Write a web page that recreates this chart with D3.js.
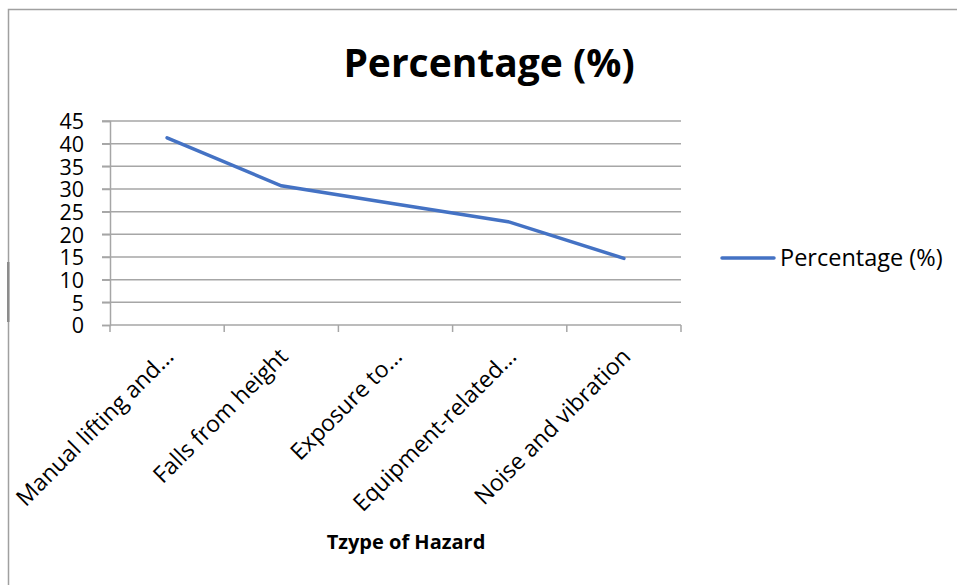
<!DOCTYPE html>
<html>
<head>
<meta charset="utf-8">
<script src="https://cdn.jsdelivr.net/npm/d3@7"></script>
<style>
  body { margin: 0; background: #fff; }
  text { font-family: "Open Sans", "Noto Sans", sans-serif; fill: #000; }
</style>
</head>
<body>
<div id="chart"></div>
<script>
// data
const categories = ["Manual lifting and...", "Falls from height", "Exposure to...", "Equipment-related...", "Noise and vibration"];
const percentages = [41.3, 30.7, 26.7, 22.7, 14.7];
const yTicks = [0, 5, 10, 15, 20, 25, 30, 35, 40, 45];
const seriesName = "Percentage (%)";
const chartTitle = "Percentage (%)";
const xTitle = "Tzype of Hazard";

const W = 957, H = 585;
const plot = { left: 110, right: 681, top: 121, bottom: 325 };
const lineColor = "#4472C4";
const gridColor = "#a6a6a6";

const svg = d3.select("#chart").append("svg")
    .attr("width", W)
    .attr("height", H);

// outer frame (only left and top edges show in the picture)
svg.append("path")
    .attr("d", `M8.5,${H} V9.5 H${W}`)
    .attr("fill", "none")
    .attr("stroke", "#a0a0a0")
    .attr("stroke-width", 1.5);
svg.append("rect")
    .attr("x", 7).attr("y", 262).attr("width", 2.5).attr("height", 60)
    .attr("fill", "#8c8c8c");

const x = d3.scaleBand()
    .domain(categories)
    .range([plot.left, plot.right])
    .padding(0);

const y = d3.scaleLinear()
    .domain([0, 45])
    .range([plot.bottom, plot.top]);

// gridlines
svg.append("g")
  .selectAll("line")
  .data(yTicks.filter(d => d > 0))
  .join("line")
    .attr("x1", plot.left - 8)
    .attr("x2", plot.right)
    .attr("y1", d => y(d))
    .attr("y2", d => y(d))
    .attr("stroke", gridColor)
    .attr("stroke-width", 1.5);

// y axis
const yAxis = svg.append("g")
    .attr("transform", `translate(${plot.left},0)`)
    .call(d3.axisLeft(y).tickValues(yTicks).tickSize(8).tickPadding(18));
yAxis.select(".domain").attr("stroke", gridColor).attr("stroke-width", 1.5);
yAxis.selectAll(".tick line").attr("stroke", gridColor).attr("stroke-width", 1.5);
yAxis.selectAll("text")
    .attr("font-size", 21.5)
    .attr("font-family", "'Open Sans', sans-serif")
    .attr("fill", "#000")
    .attr("dy", "0.36em");

// x axis with ticks between categories
const xAxis = svg.append("g")
    .attr("transform", `translate(0,${plot.bottom})`);
xAxis.append("line")
    .attr("x1", plot.left).attr("x2", plot.right)
    .attr("stroke", gridColor).attr("stroke-width", 1.5);
const edges = categories.map(c => x(c)).concat([x(categories[categories.length - 1]) + x.bandwidth()]);
xAxis.selectAll("line.tk")
  .data(edges)
  .join("line")
    .attr("class", "tk")
    .attr("x1", d => d).attr("x2", d => d)
    .attr("y1", 0).attr("y2", 7)
    .attr("stroke", gridColor).attr("stroke-width", 1.5);
xAxis.selectAll("text.lbl")
  .data(categories)
  .join("text")
    .attr("class", "lbl")
    .attr("text-anchor", "end")
    .attr("font-size", 23)
    .attr("transform", d => `translate(${x(d) + x.bandwidth() / 2 + 8},${33}) rotate(-45)`)
    .text(d => d);

// the line
const line = d3.line()
    .x((d, i) => x(categories[i]) + x.bandwidth() / 2)
    .y(d => y(d));
svg.append("path")
    .datum(percentages)
    .attr("fill", "none")
    .attr("stroke", lineColor)
    .attr("stroke-width", 3.5)
    .attr("stroke-linecap", "round")
    .attr("d", line);

// title
svg.append("text")
    .attr("x", 489).attr("y", 77)
    .attr("text-anchor", "middle")
    .attr("font-size", 39)
    .attr("font-weight", "bold")
    .text(chartTitle);

// x axis title
svg.append("text")
    .attr("x", 406).attr("y", 549)
    .attr("text-anchor", "middle")
    .attr("font-size", 20)
    .attr("font-weight", "bold")
    .text(xTitle);

// legend
const lg = svg.append("g").attr("transform", "translate(722,258)");
lg.append("line")
    .attr("x1", 0).attr("x2", 52)
    .attr("stroke", lineColor).attr("stroke-width", 3.5)
    .attr("stroke-linecap", "round");
lg.append("text")
    .attr("x", 58).attr("y", 8)
    .attr("font-size", 23.5)
    .text(seriesName);
</script>
</body>
</html>
